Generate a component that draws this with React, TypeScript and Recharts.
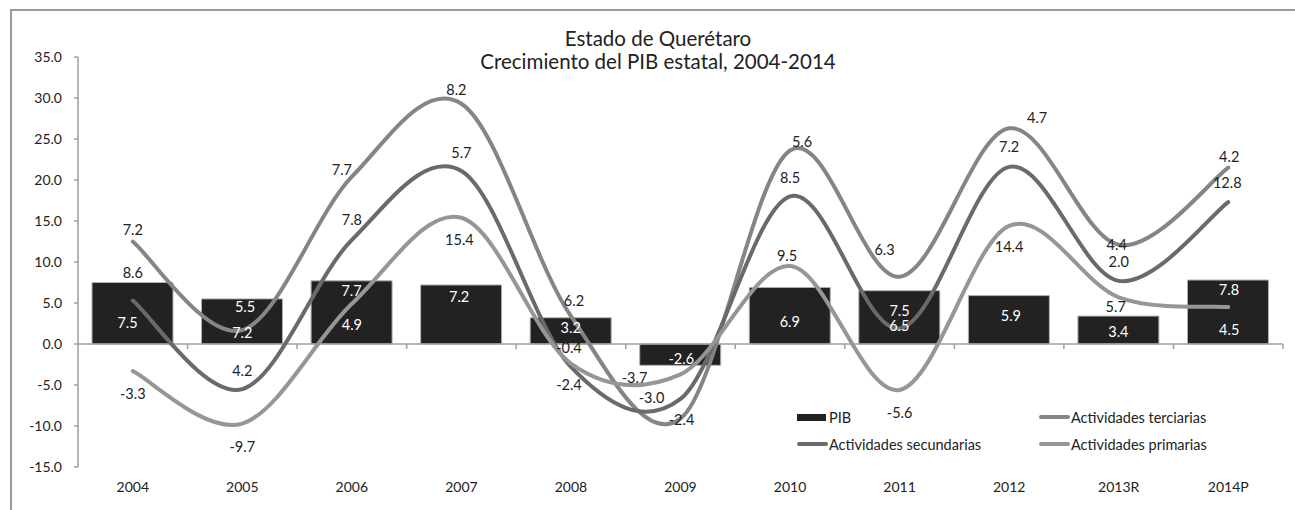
import React from 'react'
import { ComposedChart, Bar, Line, XAxis, YAxis, ReferenceLine, LabelList } from 'recharts'

const categories = ['2004', '2005', '2006', '2007', '2008', '2009', '2010', '2011', '2012', '2013R', '2014P']
const pib = [7.5, 5.5, 7.7, 7.2, 3.2, -2.6, 6.9, 6.5, 5.9, 3.4, 7.8]
const primarias = [-3.3, -9.7, 4.9, 15.4, -2.4, -3.7, 9.5, -5.6, 14.4, 5.7, 4.5]
const secundarias = [8.6, 4.2, 7.8, 5.7, -0.4, -3.0, 8.5, 7.5, 7.2, 2.0, 12.8]
const terciarias = [7.2, 7.2, 7.7, 8.2, 6.2, -2.4, 5.6, 6.3, 4.7, 4.4, 4.2]
const yTicks = [-15, -10, -5, 0, 5, 10, 15, 20, 25, 30, 35]

const FONT = 'Lato, "Open Sans", sans-serif'
const C_TER = '#858585'
const C_SEC = '#6a6a6a'
const C_PRI = '#969696'
const AXIS = '#a0a0a0'
const LBL = 14.5

// lines are stacked: primarias, + secundarias, + terciarias
const data = categories.map((year, i) => ({
  year,
  pib: pib[i],
  pri: primarias[i],
  sec: secundarias[i],
  ter: terciarias[i],
  priLine: primarias[i],
  secLine: primarias[i] + secundarias[i],
  terLine: primarias[i] + secundarias[i] + terciarias[i],
}))

// label nudges (px) relative to the point, like the manually moved excel labels
const terOff = [[0, -12], [0, 2], [-10, -7], [-5, -14], [3, -16], [1, 1], [12, -9], [-15, -27], [28, -11], [-2, 0], [1, -11]]
const secOff = [[0, -28], [0, -19], [0, -20], [0, -18], [-2, -19], [-29, -1], [0, -19], [0, -18], [0, -20], [0, -19], [-1, -20]]
const priOff = [[0, 22], [0, 23], [0, 21], [-2, 22], [-2, 21], [-46, 3], [-3, -11], [0, 23], [0, 21], [-3, 9], [1, 22]]
const pibOff = [[-5, 40], [3, 8], [0, 10], [-2, 12], [0, 10], [1, 14], [0, 34], [0, 35], [2, 20], [0, 15], [1, 9]]

// excel-like smoothed line (catmull-rom through the points)
function excelSmooth(context: any) {
  let pts: number[][] = []
  return {
    areaStart() {},
    areaEnd() {},
    lineStart() { pts = [] },
    point(x: number, y: number) { pts.push([+x, +y]) },
    lineEnd() {
      const n = pts.length
      if (!n) return
      context.moveTo(pts[0][0], pts[0][1])
      for (let i = 0; i < n - 1; i++) {
        const p0 = pts[i - 1] || pts[i]
        const p1 = pts[i]
        const p2 = pts[i + 1]
        const p3 = pts[i + 2] || p2
        context.bezierCurveTo(
          p1[0] + (p2[0] - p0[0]) / 6, p1[1] + (p2[1] - p0[1]) / 6,
          p2[0] - (p3[0] - p1[0]) / 6, p2[1] - (p3[1] - p1[1]) / 6,
          p2[0], p2[1]
        )
      }
    },
  }
}

const lineLabel = (offs: number[][], white: number[]) => (props: any) => {
  const vb = props.viewBox || {}
  const x = props.x ?? vb.x
  const y = props.y ?? vb.y
  const i = props.index
  const [dx, dy] = offs[i] || [0, 0]
  return (
    <text x={x + dx} y={y + dy} textAnchor="middle" dominantBaseline="central"
      fontSize={LBL} fontFamily={FONT} fill={white.includes(i) ? '#fff' : '#222'}>
      {Number(props.value).toFixed(1)}
    </text>
  )
}

const barLabel = (props: any) => {
  const vb = props.viewBox || {}
  const x = props.x ?? vb.x
  const y = props.y ?? vb.y
  const w = props.width ?? vb.width
  const h = props.height ?? vb.height
  const top = Math.min(y, y + h)
  const [dx, dy] = pibOff[props.index] || [0, 0]
  return (
    <text x={x + w / 2 + dx} y={top + dy} textAnchor="middle" dominantBaseline="central"
      fontSize={LBL} fontFamily={FONT} fill="#fff">
      {Number(props.value).toFixed(1)}
    </text>
  )
}

// zero line acting as the category axis, with ticks between categories
const ZeroAxis = (props: any) => {
  const { x1, x2, y1 } = props
  const band = (x2 - x1) / categories.length
  return (
    <g>
      <line x1={x1} x2={x2} y1={y1} y2={y1} stroke={AXIS} strokeWidth={1.5} />
      {categories.map((_, i) => (
        <line key={i} x1={x1 + band * (i + 1)} x2={x1 + band * (i + 1)} y1={y1} y2={y1 + 5} stroke={AXIS} strokeWidth={1.5} />
      ))}
    </g>
  )
}

const legendItems = [
  { name: 'PIB', kind: 'bar', color: '#222', left: 797, top: 408 },
  { name: 'Actividades terciarias', kind: 'line', color: C_TER, left: 1039, top: 408 },
  { name: 'Actividades secundarias', kind: 'line', color: C_SEC, left: 797, top: 435 },
  { name: 'Actividades primarias', kind: 'line', color: C_PRI, left: 1039, top: 435 },
]

export default function App() {
  return (
    <div style={{ position: 'absolute', left: 0, top: 0, width: 1295, height: 510, background: '#fff', fontFamily: FONT, overflow: 'hidden' }}>
      <div style={{ position: 'absolute', left: 10, top: 9, width: 1300, height: 520, borderTop: '2px solid #9a9a9a', borderLeft: '2px solid #9a9a9a' }} />
      <div style={{ position: 'absolute', left: 358, top: 27, width: 600, textAlign: 'center', fontSize: 20.5, lineHeight: '23px', color: '#222' }}>
        Estado de Querétaro<br />Crecimiento del PIB estatal, 2004-2014
      </div>
      <div style={{ position: 'absolute', left: 0, top: 0 }}>
        <ComposedChart width={1295} height={510} data={data} margin={{ top: 57, right: 12, bottom: 13, left: 0 }} barSize={81}>
          <XAxis dataKey="year" axisLine={false} tickLine={false} height={30} tickMargin={9}
            tick={{ fill: '#222', fontSize: 14, fontFamily: FONT }} interval={0} />
          <YAxis domain={[-15, 35]} ticks={yTicks} width={78} tickSize={4} tickMargin={12}
            allowDataOverflow
            tickFormatter={(v: number) => v.toFixed(1)}
            axisLine={{ stroke: AXIS, strokeWidth: 1.5 }} tickLine={{ stroke: AXIS, strokeWidth: 1.5 }}
            tick={{ fill: '#222', fontSize: 14, fontFamily: FONT }} />
          <Bar dataKey="pib" fill="#222" stroke="#b0b0b0" strokeWidth={1} isAnimationActive={false}>
            <LabelList dataKey="pib" content={barLabel} />
          </Bar>
          <ReferenceLine y={0} shape={ZeroAxis} />
          <Line dataKey="terLine" type={excelSmooth as any} stroke={C_TER} strokeWidth={4} dot={false} strokeLinecap="round" isAnimationActive={false}>
            <LabelList dataKey="ter" content={lineLabel(terOff, [1])} />
          </Line>
          <Line dataKey="secLine" type={excelSmooth as any} stroke={C_SEC} strokeWidth={4} dot={false} strokeLinecap="round" isAnimationActive={false}>
            <LabelList dataKey="sec" content={lineLabel(secOff, [7])} />
          </Line>
          <Line dataKey="priLine" type={excelSmooth as any} stroke={C_PRI} strokeWidth={4} dot={false} strokeLinecap="round" isAnimationActive={false}>
            <LabelList dataKey="pri" content={lineLabel(priOff, [2, 10])} />
          </Line>
        </ComposedChart>
      </div>
      {legendItems.map((it) => (
        <div key={it.name} style={{ position: 'absolute', left: it.left, top: it.top, display: 'flex', alignItems: 'center', fontSize: 14.5, color: '#222', height: 18 }}>
          {it.kind === 'bar'
            ? <span style={{ display: 'inline-block', width: 29, height: 7, background: it.color, marginRight: 3 }} />
            : <span style={{ display: 'inline-block', width: 31, height: 4, borderRadius: 2, background: it.color, marginRight: 1 }} />}
          {it.name}
        </div>
      ))}
    </div>
  )
}
